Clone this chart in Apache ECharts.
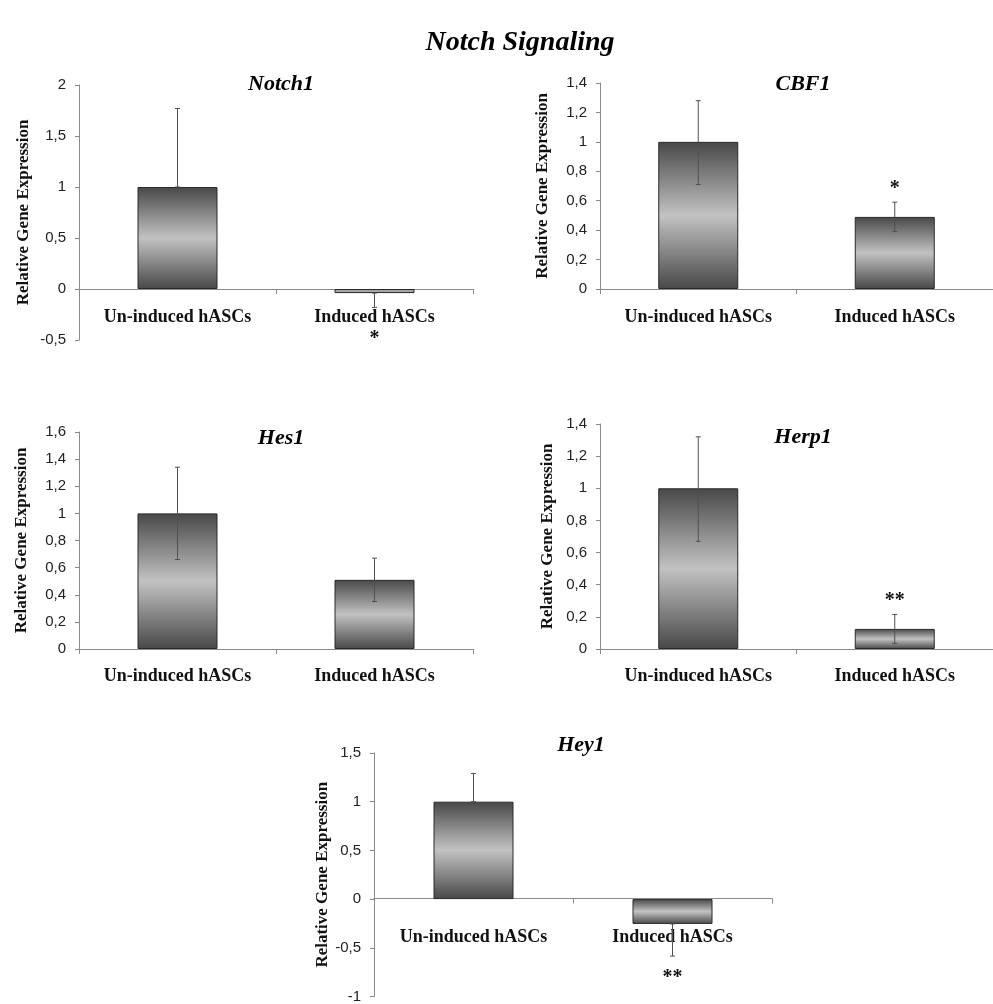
<!DOCTYPE html>
<html>
<head>
<meta charset="utf-8">
<script src="https://cdn.jsdelivr.net/npm/echarts@6/dist/echarts.min.js"></script>
<style>
  html, body { margin: 0; padding: 0; background: #fff; }
  #chart { width: 993px; height: 1004px; }
</style>
</head>
<body>
<div id="chart"></div>
<script>
const categories = ['Un-induced hASCs', 'Induced hASCs']
const genes = ['Notch1', 'CBF1', 'Hes1', 'Herp1', 'Hey1']

const notch1Mean = [1, -0.04]
const notch1Low = [1, -0.18]
const notch1High = [1.77, -0.04]
const notch1Sig = ['', '*']

const cbf1Mean = [1, 0.49]
const cbf1Low = [0.71, 0.39]
const cbf1High = [1.28, 0.59]
const cbf1Sig = ['', '*']

const hes1Mean = [1, 0.51]
const hes1Low = [0.66, 0.35]
const hes1High = [1.34, 0.67]
const hes1Sig = ['', '']

const herp1Mean = [1, 0.125]
const herp1Low = [0.67, 0.035]
const herp1High = [1.32, 0.215]
const herp1Sig = ['', '**']

const hey1Mean = [1, -0.255]
const hey1Low = [1, -0.585]
const hey1High = [1.29, -0.255]
const hey1Sig = ['', '**']

const yMin = [-0.5, 0, 0, 0, -1]
const yMax = [2, 1.4, 1.6, 1.4, 1.5]
const yStep = [0.5, 0.2, 0.2, 0.2, 0.5]

const means = [notch1Mean, cbf1Mean, hes1Mean, herp1Mean, hey1Mean]
const lows = [notch1Low, cbf1Low, hes1Low, herp1Low, hey1Low]
const highs = [notch1High, cbf1High, hes1High, herp1High, hey1High]
const sigs = [notch1Sig, cbf1Sig, hes1Sig, herp1Sig, hey1Sig]

// layout of the five panels (pixels)
const layout = [
  { left: 79, top: 85, width: 394, height: 255, titleX: 276, titleY: 68, nameGap: 47, labelMargin: 19, starGap: 31 },
  { left: 600, top: 83, width: 393, height: 206, titleX: 798, titleY: 68, nameGap: 49, labelMargin: 19, starGap: 13 },
  { left: 79, top: 432, width: 394, height: 217, titleX: 276, titleY: 422, nameGap: 49, labelMargin: 18, starGap: 14 },
  { left: 600, top: 424, width: 393, height: 225, titleX: 798, titleY: 421, nameGap: 44, labelMargin: 18, starGap: 14 },
  { left: 374, top: 753, width: 398, height: 245, titleX: 576, titleY: 729, nameGap: 42, labelMargin: 30, starGap: 22 }
]

const serif = "'Liberation Serif', 'Times New Roman', serif"
const sans = "'Liberation Sans', Arial, sans-serif"
const axisGray = '#8a8a8a'

const fmt = v => String(+Number(v).toFixed(1)).replace('.', ',')

const barFill = () => new echarts.graphic.LinearGradient(0, 0, 0, 1, [
  { offset: 0, color: '#484848' },
  { offset: 0.5, color: '#c2c2c2' },
  { offset: 1, color: '#484848' }
])

const chart = echarts.init(document.getElementById('chart'))

const titles = [{
  text: 'Notch Signaling',
  left: 515,
  top: 24,
  textAlign: 'center',
  textStyle: { fontFamily: serif, fontSize: 28, fontWeight: 'bold', fontStyle: 'italic', color: '#000' }
}]
const grids = []
const xAxes = []
const yAxes = []
const series = []

genes.forEach((gene, i) => {
  const L = layout[i]
  titles.push({
    text: gene,
    left: L.titleX,
    top: L.titleY,
    textAlign: 'center',
    textStyle: { fontFamily: serif, fontSize: 22, fontWeight: 'bold', fontStyle: 'italic', color: '#000' }
  })
  grids.push({ left: L.left, top: L.top, width: L.width, height: L.height })
  // put the category axis on the zero line of the value axis
  const zeroOffset = L.height * (0 - yMin[i]) / (yMax[i] - yMin[i])
  xAxes.push({
    type: 'category',
    gridIndex: i,
    data: categories,
    position: 'bottom',
    offset: -zeroOffset,
    axisLine: { onZero: false, lineStyle: { color: axisGray, width: 1 } },
    axisTick: { show: true, length: 5, lineStyle: { color: axisGray } },
    axisLabel: { interval: 0, margin: L.labelMargin, fontFamily: serif, fontWeight: 'bold', fontSize: 18, color: '#111' },
    splitLine: { show: false }
  })
  yAxes.push({
    type: 'value',
    gridIndex: i,
    min: yMin[i],
    max: yMax[i],
    interval: yStep[i],
    name: 'Relative Gene Expression',
    nameLocation: 'middle',
    nameRotate: 90,
    nameGap: L.nameGap,
    nameTextStyle: { fontFamily: serif, fontWeight: 'bold', fontSize: 17, color: '#111' },
    axisLine: { show: true, onZero: false, lineStyle: { color: axisGray, width: 1 } },
    axisTick: { show: true, length: 4, lineStyle: { color: axisGray } },
    axisLabel: { margin: 13, fontFamily: sans, fontSize: 15, color: '#222', formatter: fmt },
    splitLine: { show: false }
  })
  series.push({
    type: 'bar',
    xAxisIndex: i,
    yAxisIndex: i,
    barWidth: 80,
    data: means[i],
    itemStyle: { color: barFill(), borderColor: '#2a2a2a', borderWidth: 1 },
    silent: true
  })
  const mean = means[i]
  const sig = sigs[i]
  series.push({
    type: 'custom',
    xAxisIndex: i,
    yAxisIndex: i,
    z: 5,
    silent: true,
    encode: { x: 0, y: [1, 2] },
    data: categories.map((c, j) => [j, lows[i][j], highs[i][j]]),
    renderItem: (params, api) => {
      const j = api.value(0)
      const lo = api.coord([j, api.value(1)])
      const hi = api.coord([j, api.value(2)])
      const x = lo[0]
      const stroke = { stroke: '#505050', lineWidth: 1 }
      const children = [
        { type: 'line', shape: { x1: x, y1: lo[1], x2: x, y2: hi[1] }, style: stroke },
        { type: 'line', shape: { x1: x - 2.5, y1: lo[1], x2: x + 2.5, y2: lo[1] }, style: stroke },
        { type: 'line', shape: { x1: x - 2.5, y1: hi[1], x2: x + 2.5, y2: hi[1] }, style: stroke }
      ]
      if (sig[j]) {
        const up = mean[j] >= 0
        children.push({
          type: 'text',
          style: {
            text: sig[j],
            x: x,
            y: up ? hi[1] - L.starGap : lo[1] + L.starGap,
            align: 'center',
            verticalAlign: 'middle',
            font: 'bold 20px ' + serif,
            fill: '#111'
          }
        })
      }
      return { type: 'group', children }
    }
  })
})

chart.setOption({
  backgroundColor: '#fff',
  animation: false,
  title: titles,
  grid: grids,
  xAxis: xAxes,
  yAxis: yAxes,
  series: series
})
</script>
</body>
</html>
